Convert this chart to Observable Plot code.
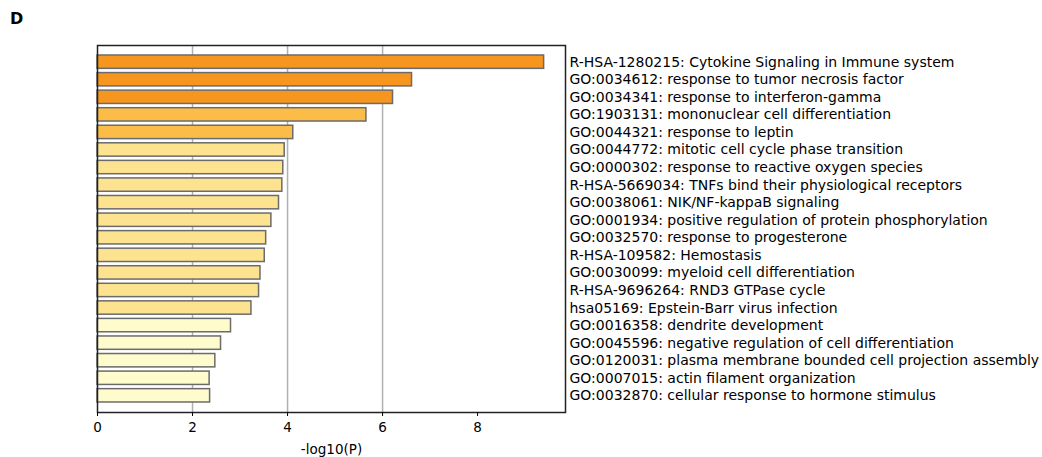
<!DOCTYPE html>
<html><head><meta charset="utf-8">
<script src="https://cdn.jsdelivr.net/npm/d3@7"></script>
<script src="https://cdn.jsdelivr.net/npm/@observablehq/plot@0.6"></script>
<style>
body{margin:0;background:#fff;}
#wrap{position:relative;width:1042px;height:457px;}
#panel{position:absolute;left:10px;top:9px;z-index:2;font:bold 16px "DejaVu Sans",sans-serif;color:#000;}
</style>
</head><body><div id="wrap"><div id="panel">D</div></div>
<script>
const terms = [
  "R-HSA-1280215: Cytokine Signaling in Immune system",
  "GO:0034612: response to tumor necrosis factor",
  "GO:0034341: response to interferon-gamma",
  "GO:1903131: mononuclear cell differentiation",
  "GO:0044321: response to leptin",
  "GO:0044772: mitotic cell cycle phase transition",
  "GO:0000302: response to reactive oxygen species",
  "R-HSA-5669034: TNFs bind their physiological receptors",
  "GO:0038061: NIK/NF-kappaB signaling",
  "GO:0001934: positive regulation of protein phosphorylation",
  "GO:0032570: response to progesterone",
  "R-HSA-109582: Hemostasis",
  "GO:0030099: myeloid cell differentiation",
  "R-HSA-9696264: RND3 GTPase cycle",
  "hsa05169: Epstein-Barr virus infection",
  "GO:0016358: dendrite development",
  "GO:0045596: negative regulation of cell differentiation",
  "GO:0120031: plasma membrane bounded cell projection assembly",
  "GO:0007015: actin filament organization",
  "GO:0032870: cellular response to hormone stimulus"
];
const values = [9.40, 6.62, 6.22, 5.66, 4.12, 3.94, 3.91, 3.89, 3.82, 3.66, 3.55, 3.52, 3.43, 3.40, 3.24, 2.81, 2.60, 2.48, 2.36, 2.37];
const tiers  = [0, 0, 0, 1, 1, 2, 2, 2, 2, 2, 2, 2, 2, 2, 2, 3, 3, 3, 3, 3];
const tierColors = ["#f7961f", "#fbbd48", "#fde38f", "#fefccd"];
const xTicks = [0, 2, 4, 6, 8];
const gridTicks = [2, 4, 6];

const data = terms.map((t, i) => ({term: t, value: values[i], tier: tiers[i]}));

const chart = Plot.plot({
  width: 1042, height: 457,
  marginLeft: 97, marginRight: 477, marginTop: 45, marginBottom: 45,
  style: {fontFamily: "'DejaVu Sans', sans-serif", fontSize: "13px", color: "#000", background: "#fff"},
  x: {domain: [0, 9.85]},
  y: {domain: terms, paddingInner: 0.24, paddingOuter: 0.57, round: false},
  color: {type: "ordinal", domain: [0, 1, 2, 3], range: tierColors},
  marks: [
    Plot.ruleX(gridTicks, {stroke: "#b0b0b0", strokeWidth: 1.5}),
    Plot.barX(data, {x: "value", y: "term", fill: "tier", stroke: "#6b6b6b", strokeWidth: 1.5}),
    Plot.frame({stroke: "#222", strokeWidth: 1.5}),
    Plot.axisX({ticks: xTicks, tickSize: 4, tickPadding: 6, fontSize: 13.5, label: "-log10(P)", labelAnchor: "center", labelArrow: "none", labelOffset: 41}),
    Plot.axisY({anchor: "right", tickSize: 0, tickPadding: 4, fontSize: 14, label: null})
  ]
});
document.getElementById("wrap").appendChild(chart);
chart.style.position = "absolute";
chart.style.left = "0";
chart.style.top = "0";
</script>
</body></html>
